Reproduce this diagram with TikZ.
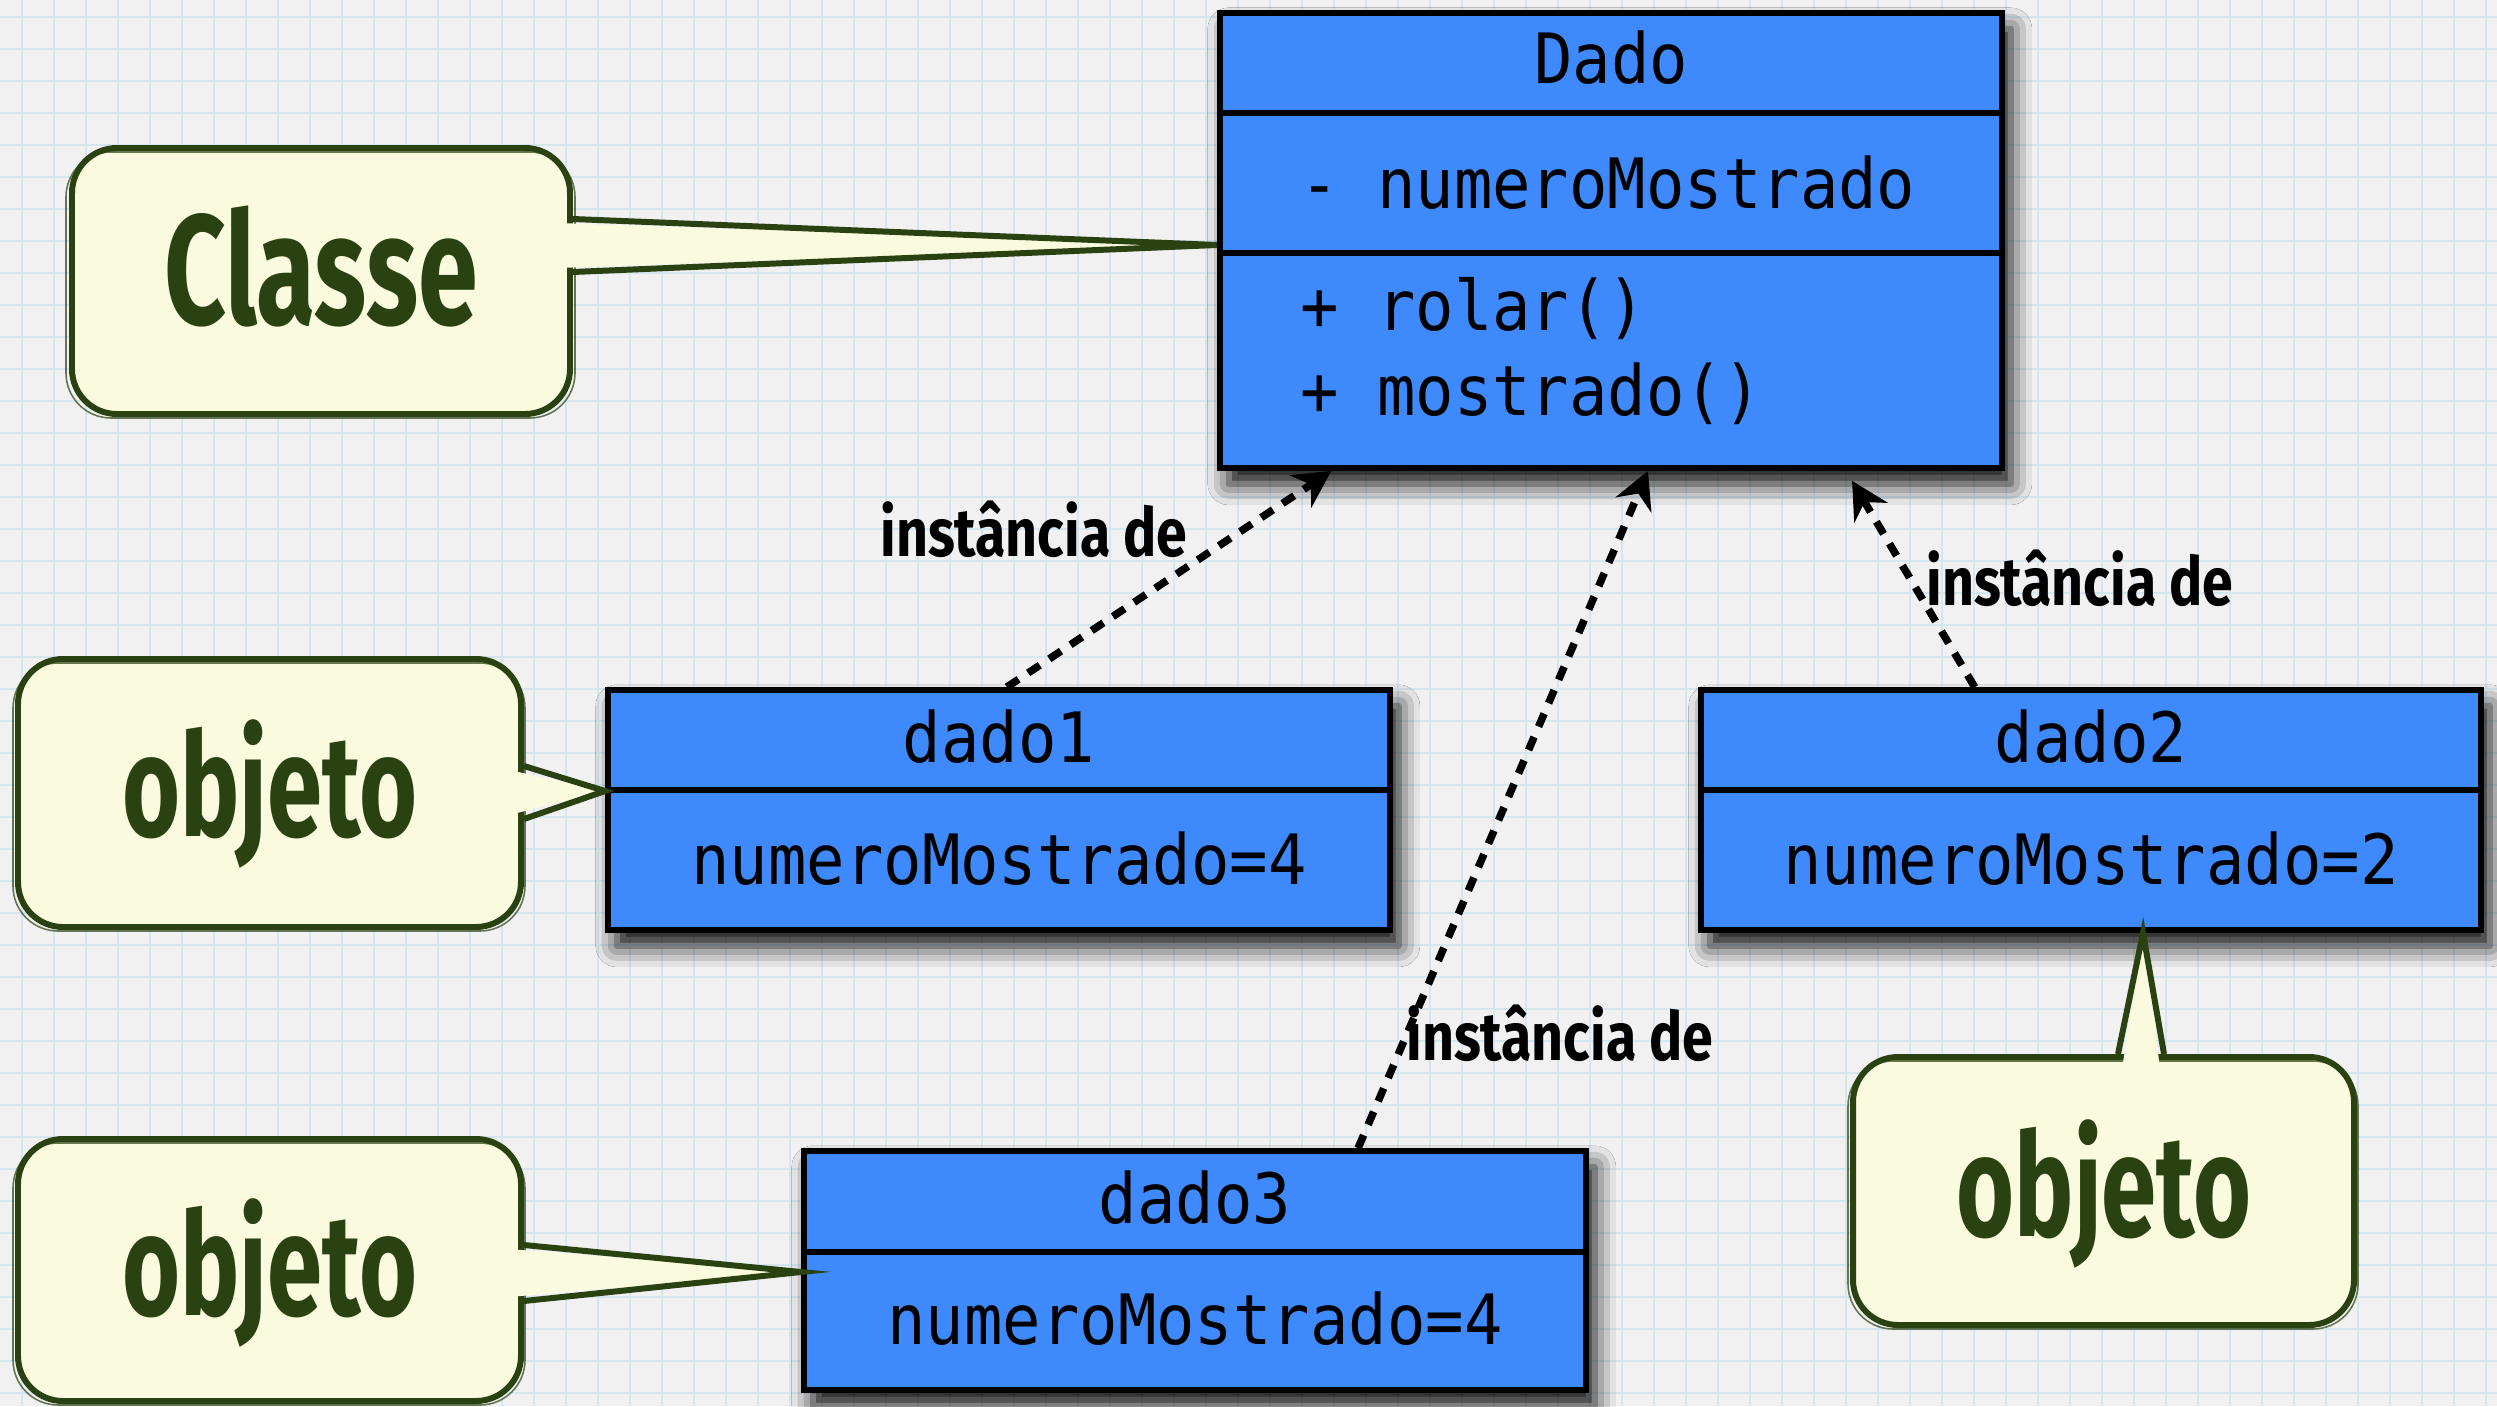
\documentclass[tikz,border=0pt]{standalone}
\usepackage{fontspec}
\newfontfamily\monofont[FakeStretch=0.92]{DejaVu Sans Mono}
\newfontfamily\handfont[FakeStretch=0.69]{Fira Sans}
\newfontfamily\labfont[FakeStretch=0.82]{Fira Sans}
\usetikzlibrary{shadows.blur,calc,fit,arrows.meta}
\definecolor{bgc}{RGB}{241,241,241}
\definecolor{gridc}{RGB}{212,230,238}
\definecolor{boxblue}{RGB}{62,138,253}
\definecolor{callfill}{RGB}{249,250,222}
\definecolor{callline}{RGB}{42,65,17}
\begin{document}
\begin{tikzpicture}[x=0.02cm,y=-0.02cm,
  gridline/.style={draw=gridc,line width=1.1pt},
  umlbox/.style={draw=black,line width=3.3pt,fill=boxblue,inner sep=0pt,
    blur shadow={shadow xshift=5pt,shadow yshift=-9pt,shadow blur radius=12pt,shadow opacity=95}},
  divider/.style={draw=black,line width=3.1pt},
  mono/.style={font=\monofont\fontsize{39.5pt}{41pt}\selectfont,inner sep=0pt,anchor=base,text=black},
  callout/.style={draw=callline,fill=callfill,line width=3.4pt,rounded corners=0.9cm,inner sep=0pt},
  sketch/.style={draw=callline,line width=0.9pt,rounded corners=0.9cm,opacity=0.7},
  ptrline/.style={draw=callline,line width=3.4pt,line join=miter},
  hand/.style={font=\handfont\bfseries\fontsize{89pt}{90pt}\selectfont,text=callline,inner sep=0pt,anchor=base},
  handobj/.style={font=\handfont\bfseries\fontsize{82pt}{84pt}\selectfont,text=callline,inner sep=0pt,anchor=base},
  instlabel/.style={font=\labfont\bfseries\fontsize{38.5pt}{40pt}\selectfont,text=black,inner sep=0pt,anchor=base},
  inst/.style={draw=black,line width=4.3pt,dash pattern=on 8pt off 6.5pt,
    -{Stealth[length=21pt,width=22pt,inset=7pt]}}
]
\useasboundingbox (0,0) rectangle (2497,1406);
\fill[bgc] (0,0) rectangle (2497,1406);
\foreach \i in {0,...,77} \draw[gridline] ({21.7+32*\i},0) -- ({21.7+32*\i},1406);
\foreach \j in {0,...,43} \draw[gridline] (0,{16.7+32*\j}) -- (2497,{16.7+32*\j});

% UML class
\node[umlbox,fit={(1220,13) (2002,468)}] (dado) {};
\draw[divider] (dado.west |- 0,113) -- (dado.east |- 0,113);
\draw[divider] (dado.west |- 0,253) -- (dado.east |- 0,253);
\node[mono] (tDado) at (1611,84) {Dado};
\node[mono,anchor=base west] (tAttr) at (1300,208) {- numeroMostrado};
\node[mono,anchor=base west] (tRolar) at (1300,330) {+ rolar()};
\node[mono,anchor=base west] (tMost) at (1300,415) {+ mostrado()};

% objects
\node[umlbox,fit={(608,690) (1390,930)}] (d1) {};
\draw[divider] (d1.west |- 0,790) -- (d1.east |- 0,790);
\node[mono] (td1) at (999,762) {dado1};
\node[mono] (td1v) at (999,884) {numeroMostrado=4};

\node[umlbox,fit={(1701,690) (2481,930)}] (d2) {};
\draw[divider] (d2.west |- 0,790) -- (d2.east |- 0,790);
\node[mono] (td2) at (2091,762) {dado2};
\node[mono] (td2v) at (2091,884) {numeroMostrado=2};

\node[umlbox,fit={(804,1151) (1586,1390)}] (d3) {};
\draw[divider] (d3.west |- 0,1252) -- (d3.east |- 0,1252);
\node[mono] (td3) at (1195,1223) {dado3};
\node[mono] (td3v) at (1195,1344) {numeroMostrado=4};

% callouts
\node[callout,fit={(72,148) (570,414)}] (cClasse) {};
\draw[sketch] (66,152) rectangle (575,418);
\fill[callfill] (558,223) -- (dado.west |- 0,245) -- (558,268) -- cycle;
\draw[ptrline] (cClasse.east |- 0,219) -- (dado.west |- 0,245) -- (cClasse.east |- 0,272);
\node[hand] (lClasse) at (321,324) {Classe};

\node[callout,fit={(18,659) (521,927)}] (cObj1) {};
\draw[sketch] (13,663) rectangle (525,931);
\fill[callfill] (509,770) -- (d1.west |- 0,791) -- (509,815) -- cycle;
\draw[ptrline] (cObj1.east |- 0,766) -- (d1.west |- 0,791) -- (cObj1.east |- 0,819);
\node[handobj] (lObj1) at (270,836) {objeto};

\node[callout,fit={(18,1139) (521,1401)}] (cObj2) {};
\draw[sketch] (13,1143) rectangle (525,1405);
\fill[callfill] (509,1249) -- (d3.west |- 0,1272) -- (509,1297) -- cycle;
\draw[ptrline] (cObj2.east |- 0,1245) -- (d3.west |- 0,1272) -- (cObj2.east |- 0,1301);
\node[handobj] (lObj2) at (270,1315) {objeto};

\node[callout,fit={(1853,1057) (2354,1325)}] (cObj3) {};
\draw[sketch] (1848,1061) rectangle (2358,1329);
\fill[callfill] (2122,1069) -- (d2.south -| 2143,0) -- (2160,1069) -- cycle;
\draw[ptrline] (cObj3.north -| 2118,0) -- (d2.south -| 2143,0) -- (cObj3.north -| 2164,0);
\node[handobj] (lObj3) at (2104,1236) {objeto};

% instance arrows
\draw[inst] ($(d1.north west)!0.51!(d1.north east)$) -- ($(dado.south west)!0.145!(dado.south east)$);
\draw[inst] ($(d3.north west)!0.707!(d3.north east)$) -- ($(dado.south west)!0.547!(dado.south east)$);
\draw[inst] ($(d2.north west)!0.352!(d2.north east)$) -- ($(dado.south west)!0.806!(dado.south east)+(0,10)$);

\node[instlabel] (i1) at (1034,556) {instância de};
\node[instlabel] (i2) at (2080,605) {instância de};
\node[instlabel] (i3) at (1560,1060) {instância de};
\end{tikzpicture}
\end{document}
